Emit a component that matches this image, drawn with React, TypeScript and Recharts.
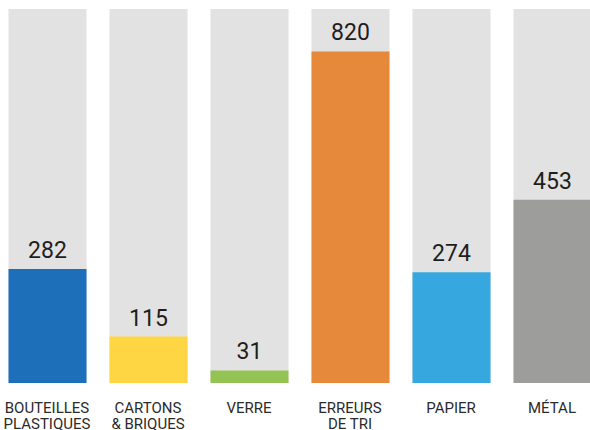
import React from 'react';
import { Bar, BarChart, Cell, LabelList, XAxis, YAxis } from 'recharts';

const categories = ['BOUTEILLES\nPLASTIQUES', 'CARTONS\n& BRIQUES', 'VERRE', 'ERREURS\nDE TRI', 'PAPIER', 'MÉTAL'];
const values = [282, 115, 31, 820, 274, 453];
const colors = ['#1c6fb8', '#fed543', '#92c353', '#e7893a', '#37a7df', '#9d9d9b'];

const data = categories.map((name, i) => ({ name, value: values[i] }));

const font = 'Roboto, "DejaVu Sans", sans-serif';

const CategoryTick = (props: any) => {
    const { x, y, payload } = props;
    const lines: string[] = String(payload.value).split('\n');
    return (
        <text x={x} y={y} textAnchor="middle" fill="#2b2b2b" fontFamily={font} fontSize={15}>
            {lines.map((line, i) => (
                <tspan key={i} x={x} y={y + 30 + i * 16}>{line}</tspan>
            ))}
        </text>
    );
};

const App = () => {
    return (
        <div style={{ position: 'fixed', left: 0, top: 0, width: 590, height: 430, overflow: 'hidden', background: '#fff' }}>
            <BarChart
                width={610}
                height={430}
                data={data}
                margin={{ top: 9, right: 7.5, bottom: 0, left: -3.5 }}
            >
                <XAxis
                    dataKey="name"
                    interval={0}
                    height={47}
                    tickLine={false}
                    axisLine={false}
                    tickSize={0}
                    tickMargin={0}
                    tick={<CategoryTick />}
                />
                <YAxis hide domain={[0, 925]} />
                <Bar
                    dataKey="value"
                    barSize={78}
                    background={{ fill: '#e2e2e2' }}
                    isAnimationActive={false}
                >
                    {data.map((d, i) => (
                        <Cell key={d.name} fill={colors[i]} />
                    ))}
                    <LabelList
                        dataKey="value"
                        position="top"
                        offset={11}
                        fill="#1e1e1e"
                        fontSize={23}
                        fontFamily={font}
                    />
                </Bar>
            </BarChart>
        </div>
    );
};

export default App;
